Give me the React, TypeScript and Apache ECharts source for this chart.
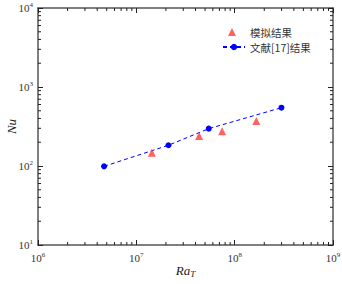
import React, { useEffect, useRef } from "react";
import * as echarts from "echarts";

const simRa = [1.44e7, 4.35e7, 7.45e7, 1.66e8];
const simNu = [147, 240, 275, 372];
const litRa = [4.7e6, 2.12e7, 5.45e7, 2.99e8];
const litNu = [99, 183, 297, 547];
const seriesNames = ["模拟结果", "文献[17]结果"];
const xDecades = [6, 7, 8];
const yDecades = [1, 2, 3];
const minorMultipliers = [2, 3, 4, 5, 6, 7, 8, 9];

const X_MIN = 1e6, X_MAX = 1e9, Y_MIN = 1e1, Y_MAX = 1e4;
const AXIS_COLOR = "#555";
const SERIF = "'Liberation Serif', 'Times New Roman', serif";
const CJK = "'Noto Sans CJK SC', sans-serif";

function supLabel(v: number) {
  const e = Math.round(Math.log10(v));
  return `{base|10}{sup|${e}}`;
}

const richLabel = {
  base: { fontFamily: SERIF, fontSize: 11, color: "#333" },
  sup: { fontFamily: SERIF, fontSize: 7, color: "#333", padding: [0, 0, 7, 0] },
};

export default function App() {
  const ref = useRef<HTMLDivElement>(null);
  useEffect(() => {
    if (!ref.current) return;
    const chart = echarts.init(ref.current, undefined, { renderer: "svg" });

    const minorData: number[][] = [];
    xDecades.forEach((d) =>
      minorMultipliers.forEach((m) => minorData.push([m * Math.pow(10, d), Y_MIN, 0]))
    );
    yDecades.forEach((d) =>
      minorMultipliers.forEach((m) => minorData.push([X_MIN, m * Math.pow(10, d), 1]))
    );

    const axisCommon = {
      type: "log" as const,
      logBase: 10,
      nameMoveOverlap: false,
      axisLine: { show: true, lineStyle: { color: AXIS_COLOR, width: 1.5 } },
      axisTick: { show: true, inside: true, length: 5, lineStyle: { color: "#222", width: 1 } },
      splitLine: { show: false },
    };

    const legendText = { fontFamily: CJK, fontSize: 10.5, lineHeight: 12, color: "#333" };

    chart.setOption({
      animation: false,
      grid: { left: 38, top: 8, right: 9, bottom: 39, containLabel: false, outerBoundsMode: "none" },
      legend: [
        {
          orient: "vertical",
          left: 228,
          top: 26,
          itemWidth: 8,
          itemHeight: 8,
          itemGap: 0,
          padding: 0,
          textStyle: { ...legendText, padding: [0, 0, 0, 9] },
          data: [seriesNames[0]],
        },
        {
          orient: "vertical",
          left: 222,
          top: 41,
          itemWidth: 22,
          itemHeight: 8,
          itemGap: 0,
          padding: 0,
          textStyle: legendText,
          data: [seriesNames[1]],
        },
      ],
      xAxis: [
        {
          ...axisCommon,
          min: X_MIN,
          max: X_MAX,
          position: "bottom",
          name: "{it|Ra}{sub|T}",
          nameLocation: "middle",
          nameGap: 18,
          nameTextStyle: {
            rich: {
              it: { fontFamily: SERIF, fontStyle: "italic", fontSize: 13, color: "#222" },
              sub: { fontFamily: SERIF, fontStyle: "italic", fontSize: 9, color: "#222", padding: [6, 0, 0, 0] },
            },
          },
          axisLabel: { margin: 6, formatter: supLabel, rich: richLabel },
        },
        {
          ...axisCommon,
          min: X_MIN,
          max: X_MAX,
          position: "top",
          axisLabel: { show: false },
        },
      ],
      yAxis: [
        {
          ...axisCommon,
          min: Y_MIN,
          max: Y_MAX,
          position: "left",
          name: "Nu",
          nameLocation: "middle",
          nameGap: 20,
          nameTextStyle: { fontFamily: SERIF, fontStyle: "italic", fontSize: 13, color: "#222" },
          axisLabel: { margin: 5, formatter: supLabel, rich: richLabel },
        },
        {
          ...axisCommon,
          min: Y_MIN,
          max: Y_MAX,
          position: "right",
          axisLabel: { show: false },
        },
      ],
      series: [
        {
          name: seriesNames[0],
          type: "scatter",
          symbol: "triangle",
          symbolSize: 8,
          itemStyle: { color: "#ff3b3b" },
          data: simRa.map((x, i) => [x, simNu[i]]),
          z: 3,
        },
        {
          name: seriesNames[1],
          type: "line",
          symbol: "circle",
          symbolSize: 6,
          showAllSymbol: true,
          itemStyle: { color: "#0000ff" },
          lineStyle: { color: "#0000ff", width: 1, type: [4, 3] },
          data: litRa.map((x, i) => [x, litNu[i]]),
          z: 3,
        },
        {
          type: "custom",
          silent: true,
          clip: false,
          legendHoverLink: false,
          data: minorData,
          renderItem: (params: any, api: any) => {
            const v0 = api.value(0);
            const v1 = api.value(1);
            const kind = api.value(2);
            const len = 3;
            const style = { stroke: "#222", lineWidth: 1 };
            if (kind === 0) {
              const b = api.coord([v0, Y_MIN]);
              const t = api.coord([v0, Y_MAX]);
              return {
                type: "group",
                children: [
                  { type: "line", shape: { x1: b[0], y1: b[1], x2: b[0], y2: b[1] - len }, style },
                  { type: "line", shape: { x1: t[0], y1: t[1], x2: t[0], y2: t[1] + len }, style },
                ],
              };
            }
            const l = api.coord([X_MIN, v1]);
            const r = api.coord([X_MAX, v1]);
            return {
              type: "group",
              children: [
                { type: "line", shape: { x1: l[0], y1: l[1], x2: l[0] + len, y2: l[1] }, style },
                { type: "line", shape: { x1: r[0], y1: r[1], x2: r[0] - len, y2: r[1] }, style },
              ],
            };
          },
        },
      ],
    });
    return () => chart.dispose();
  }, []);
  return (
    <div
      ref={ref}
      style={{ position: "fixed", left: 0, top: 0, width: 342, height: 284, background: "#fff" }}
    />
  );
}
